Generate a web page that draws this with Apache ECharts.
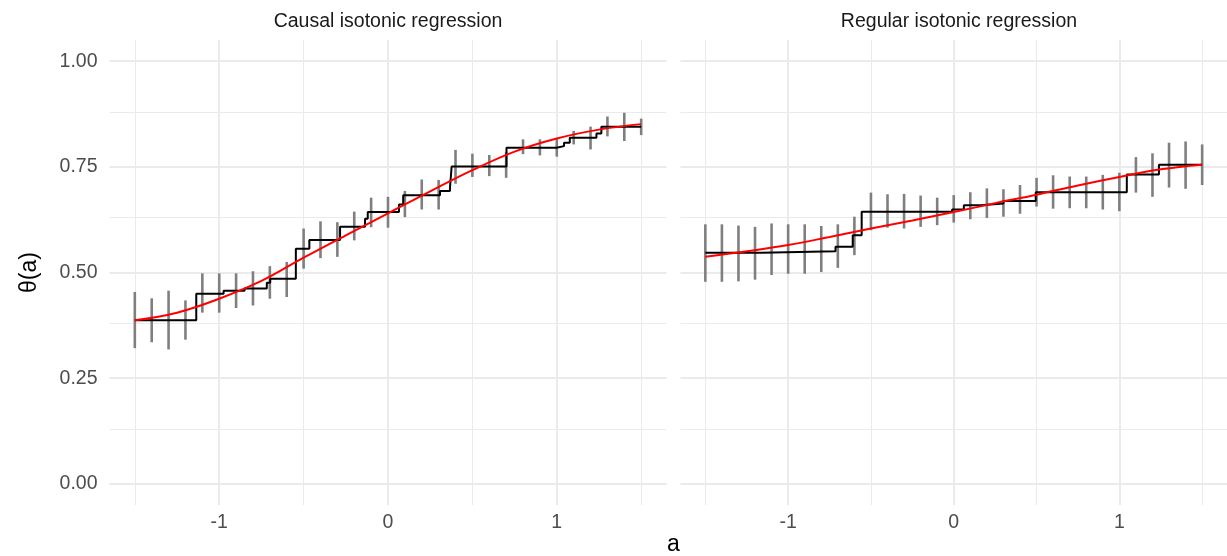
<!DOCTYPE html>
<html>
<head>
<meta charset="utf-8">
<script src="https://cdn.jsdelivr.net/npm/echarts@6.0.0/dist/echarts.min.js"></script>
<style>
html,body{margin:0;padding:0;background:#fff;}
#chart{width:1227px;height:556px;}
</style>
</head>
<body>
<div id="chart"></div>
<script>
// ---- data ----
const panelTitles = ['Causal isotonic regression', 'Regular isotonic regression'];
const xTicks = [-1, 0, 1];
const xMinor = [-1.5, -0.5, 0.5, 1.5];
const yTicks = [0, 0.25, 0.5, 0.75, 1];
const yMinor = [0.125, 0.375, 0.625, 0.875];

const errX = [-1.5,-1.4,-1.3,-1.2,-1.1,-1.0,-0.9,-0.8,-0.7,-0.6,-0.5,-0.4,-0.3,-0.2,-0.1,0,0.1,0.2,0.3,0.4,0.5,0.6,0.7,0.8,0.9,1.0,1.1,1.2,1.3,1.4,1.5];

const causalLow  = [0.321,0.335,0.318,0.341,0.405,0.405,0.416,0.422,0.438,0.442,0.509,0.534,0.537,0.576,0.607,0.606,0.631,0.649,0.649,0.710,0.726,0.728,0.724,0.780,0.777,0.774,0.803,0.791,0.822,0.811,0.825];
const causalHigh = [0.454,0.439,0.457,0.434,0.498,0.498,0.498,0.503,0.515,0.525,0.604,0.621,0.619,0.644,0.677,0.679,0.693,0.720,0.719,0.790,0.781,0.778,0.785,0.815,0.815,0.817,0.835,0.845,0.869,0.878,0.864];

const regularLow  = [0.478,0.478,0.479,0.483,0.494,0.497,0.497,0.501,0.511,0.541,0.600,0.606,0.604,0.608,0.612,0.618,0.626,0.629,0.632,0.639,0.656,0.651,0.652,0.652,0.649,0.645,0.689,0.679,0.701,0.698,0.707];
const regularHigh = [0.614,0.614,0.611,0.608,0.616,0.614,0.614,0.610,0.614,0.632,0.689,0.685,0.686,0.682,0.677,0.683,0.690,0.699,0.697,0.707,0.724,0.730,0.727,0.727,0.731,0.736,0.773,0.782,0.807,0.810,0.803];

const causalStepX = [-1.5,-1.136,-0.974,-0.85,-0.718,-0.698,-0.546,-0.466,-0.284,-0.136,-0.12,0.065,0.09,0.308,0.367,0.377,0.702,0.998,1.043,1.077,1.235,1.264,1.5];
const causalStepY = [0.387,0.450,0.457,0.462,0.4755,0.485,0.556,0.577,0.608,0.627,0.643,0.661,0.683,0.693,0.700,0.7505,0.795,0.799,0.807,0.819,0.829,0.845,0.845];

const regularStepX = [-1.5,-1.16,-0.714,-0.61,-0.556,-0.01,0.061,0.164,0.30,0.495,1.045,1.239,1.5];
const regularStepY = [0.5466,0.550,0.561,0.588,0.644,0.649,0.659,0.6635,0.669,0.690,0.732,0.755,0.755];

const fitX = [-1.5,-1.25,-1.0,-0.75,-0.5,-0.25,0,0.25,0.5,0.75,1.0,1.25,1.5];
const causalFitY  = [0.387,0.405,0.438,0.480,0.535,0.588,0.640,0.692,0.742,0.786,0.817,0.838,0.851];
const regularFitY = [0.537,0.550,0.565,0.584,0.604,0.623,0.643,0.664,0.684,0.706,0.726,0.744,0.755];

// ---- chart ----
const FONT = '"Liberation Sans", Arial, Helvetica, sans-serif';
const zip = (a, b) => a.map((v, i) => [v, b[i]]);
const zip3 = (a, b, c) => a.map((v, i) => [v, b[i], c[i]]);

const panels = [
  {left: 109.5, low: causalLow, high: causalHigh, sx: causalStepX, sy: causalStepY, fy: causalFitY},
  {left: 680.5, low: regularLow, high: regularHigh, sx: regularStepX, sy: regularStepY, fy: regularFitY}
];
const PW = 557, PT = 40, PH = 465;

const grids = [], xAxes = [], yAxes = [], series = [];
panels.forEach((p, i) => {
  grids.push({left: p.left, top: PT, width: PW, height: PH, containLabel: false});
  xAxes.push({
    type: 'value', gridIndex: i, min: -1.65, max: 1.65,
    axisLine: {show: false}, axisTick: {show: false}, splitLine: {show: false},
    axisLabel: {show: true, customValues: xTicks, margin: 8, color: '#4D4D4D', fontSize: 19.5, fontFamily: FONT,
      formatter: v => String(v)}
  });
  yAxes.push({
    type: 'value', gridIndex: i, min: -0.05, max: 1.05,
    axisLine: {show: false}, axisTick: {show: false}, splitLine: {show: false},
    axisLabel: {show: i === 0, customValues: yTicks, margin: 12, color: '#4D4D4D', fontSize: 19.5, fontFamily: FONT,
      formatter: v => v.toFixed(2)},
    name: i === 0 ? 'θ(a)' : '', nameLocation: 'middle', nameRotate: 90, nameGap: 68,
    nameTextStyle: {color: '#000', fontSize: 23, fontFamily: FONT}
  });
  const mk = (vals, key, w) => vals.map(v => ({[key]: v, lineStyle: {color: '#EBEBEB', width: w, type: 'solid'}}));
  series.push({
    type: 'line', xAxisIndex: i, yAxisIndex: i, data: [], z: 0, silent: true,
    markLine: {
      z: 0, silent: true, symbol: ['none', 'none'], label: {show: false}, animation: false,
      data: [].concat(mk(xMinor, 'xAxis', 1), mk(yMinor, 'yAxis', 1), mk(xTicks, 'xAxis', 2), mk(yTicks, 'yAxis', 2))
    }
  });
  series.push({
    type: 'custom', xAxisIndex: i, yAxisIndex: i, z: 2, silent: true,
    data: zip3(errX, p.low, p.high),
    encode: {x: 0, y: [1, 2]},
    renderItem: (params, api) => {
      const a = api.coord([api.value(0), api.value(1)]);
      const b = api.coord([api.value(0), api.value(2)]);
      return {type: 'rect', shape: {x: a[0] - 1.3, y: b[1], width: 2.6, height: a[1] - b[1]},
        style: {fill: '#7F7F7F'}};
    }
  });
  series.push({
    type: 'line', xAxisIndex: i, yAxisIndex: i, z: 3, step: 'end', showSymbol: false, silent: true,
    data: zip(p.sx, p.sy), lineStyle: {color: '#000000', width: 2}
  });
  series.push({
    type: 'line', xAxisIndex: i, yAxisIndex: i, z: 4, smooth: 0.4, showSymbol: false, silent: true,
    data: zip(fitX, p.fy), lineStyle: {color: '#FF0000', width: 2}
  });
});

const chart = echarts.init(document.getElementById('chart'), null, {renderer: 'canvas'});
chart.setOption({
  animation: false,
  backgroundColor: '#ffffff',
  grid: grids, xAxis: xAxes, yAxis: yAxes, series: series,
  graphic: [
    {type: 'text', x: 388, y: 22, style: {text: panelTitles[0], fill: '#1A1A1A', font: '19.5px ' + FONT, align: 'center', verticalAlign: 'middle'}},
    {type: 'text', x: 959, y: 22, style: {text: panelTitles[1], fill: '#1A1A1A', font: '19.5px ' + FONT, align: 'center', verticalAlign: 'middle'}},
    {type: 'text', x: 673.5, y: 545, style: {text: 'a', fill: '#000', font: '23px ' + FONT, align: 'center', verticalAlign: 'middle'}}
  ]
});
</script>
</body>
</html>
